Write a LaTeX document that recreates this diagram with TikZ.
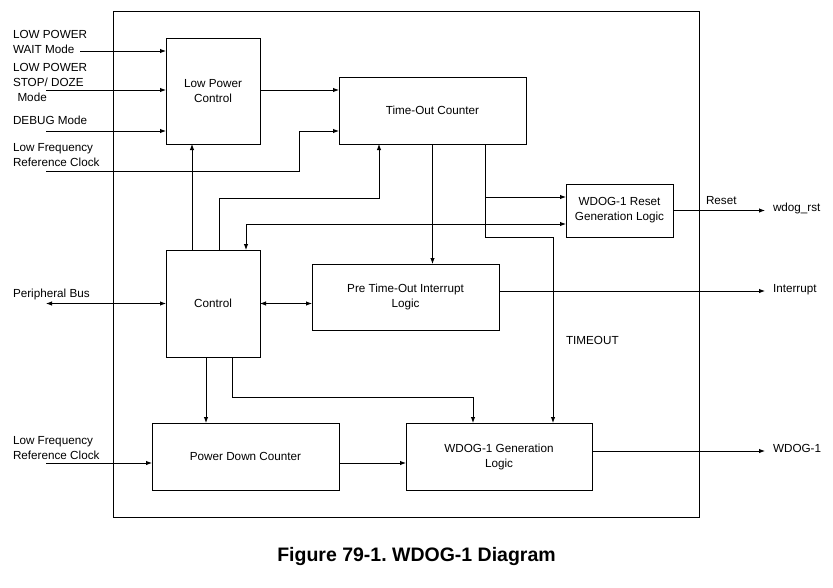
\documentclass[tikz,border=0pt]{standalone}
\usepackage{fontspec}
\setmainfont{Liberation Sans}
\usetikzlibrary{positioning,arrows.meta}
\frenchspacing

\begin{document}
\begin{tikzpicture}[
		x=1pt, y=-1pt,
		line width=0.9pt,
		>={Latex[length=6pt,width=4.5pt]},
		every node/.style = {
			font=\fontsize{11.7}{15}\selectfont,
			outer sep=0cm,
			inner sep=0cm
			},
		box/.style = {
			draw, rectangle,
			align=center,
			minimum width=187pt,
			minimum height=67pt
			},
		txt/.style = {anchor=base west, align=left},
		outlbl/.style = {anchor=base west, inner xsep=8pt}
		]
		\useasboundingbox (0,0) rectangle (833,587);
		\node [draw, minimum width=586pt, minimum height=506pt] (blk) at (406,264) {};

		\node [box, minimum width=94pt, minimum height=106pt] (lpc) at (213,91) {Low Power\\Control};
		\node [box, minimum width=94pt, minimum height=107pt, below=106pt of lpc] (ctl) {Control};
		\node [box] (toc) at (432.5,110.5) {Time-Out Counter};
		\node [box, minimum height=66pt] (pre) at (405.5,297) {Pre Time-Out Interrupt\\Logic};
		\node [box, minimum width=107pt, minimum height=53pt] (rst) at (619.5,210.5) {WDOG-1 Reset\\Generation Logic};
		\node [box] (pdc) at (245.5,456.5) {Power Down Counter};
		\node [box, minimum width=186pt, right=67pt of pdc] (gen) {WDOG-1 Generation\\Logic};

		\node [txt] (lp1) at (13,53.3) {LOW POWER\\WAIT Mode};
		\node [txt] (lp2) at (13,101.5) {LOW POWER\\STOP/ DOZE\\\hspace{4.5pt}Mode};
		\node [txt] (dbg) at (13,124) {DEBUG Mode};
		\node [txt] (lf1) at (13,166) {Low Frequency\\Reference Clock};
		\node [txt] (pbus) at (13,297) {Peripheral Bus};
		\node [txt] (lf2) at (13,459) {Low Frequency\\Reference Clock};

		\coordinate (w0) at (80,51);
		\coordinate (s0) at (46,90);
		\coordinate (d0) at (46,131);
		\coordinate (k0) at (46,171);
		\coordinate (k1) at (299.5,131);
		\coordinate (pb) at (46,303.5);
		\coordinate (k2) at (46,463);
		\coordinate (c1) at (379,198);
		\coordinate (t1) at ([xshift=52.5pt]toc.south);
		\coordinate (b1) at ([yshift=13.5pt]rst.west);

		\draw[->] (w0) -- (w0 -| lpc.west);
		\draw[->] (s0) -- (s0 -| lpc.west);
		\draw[->] (d0) -- (d0 -| lpc.west);
		\draw[->] (s0 -| lpc.east) -- (s0 -| toc.west);
		\draw[->] (k0) -| (k1) -- (k1 -| toc.west);

		\draw[->] ([xshift=-21pt]ctl.north) -- ([xshift=-21pt]lpc.south);
		\draw[->] ([xshift=6pt]ctl.north) |- (c1) -- (c1 |- toc.south);
		\draw[<->] ([xshift=33pt]ctl.north) |- ([yshift=-13.5pt]rst.west);

		\draw[->] (toc.south) -- (toc.south |- pre.north);
		\draw[->] (t1) -- (t1 |- rst.south) -| ([xshift=54pt]gen.north);
		\draw[->] (t1 |- b1) -- (b1);

		\draw[<->] (ctl.east) -- (ctl.east -| pre.west);
		\draw[<->] (pb) -- (ctl.west);
		\draw[->] ([xshift=-7pt]ctl.south) -- ([xshift=-7pt]ctl.south |- pdc.north);
		\draw[->] ([xshift=19pt]ctl.south) -- ++(0,40) -| ([xshift=-26pt]gen.north);
		\draw[->] (k2) -- (k2 -| pdc.west);
		\draw[->] (k2 -| pdc.east) -- (k2 -| gen.west);

		\node [outlbl] (wrst) at (765,211.5) {wdog\_rst};
		\node [outlbl] (intr) at (765,292.5) {Interrupt};
		\node [outlbl] (wdo) at (765,452.7) {WDOG-1};
		\draw[->] (rst.east) -- (rst.east -| wrst.west);
		\draw[->] ([yshift=6pt]pre.east) -- ([yshift=6pt]pre.east -| intr.west);
		\draw[->] ([yshift=5.5pt]gen.east) -- ([yshift=5.5pt]gen.east -| wdo.west);

		\node [anchor=base west] (rlbl) at (706,204) {Reset};
		\node [anchor=base west] (tmo) at (566,344.3) {TIMEOUT};
		\node [anchor=base, font=\bfseries\fontsize{19.5}{22}\selectfont] (cap) at (416.5,561) {Figure 79-1. WDOG-1 Diagram};
	\end{tikzpicture}
\end{document}
